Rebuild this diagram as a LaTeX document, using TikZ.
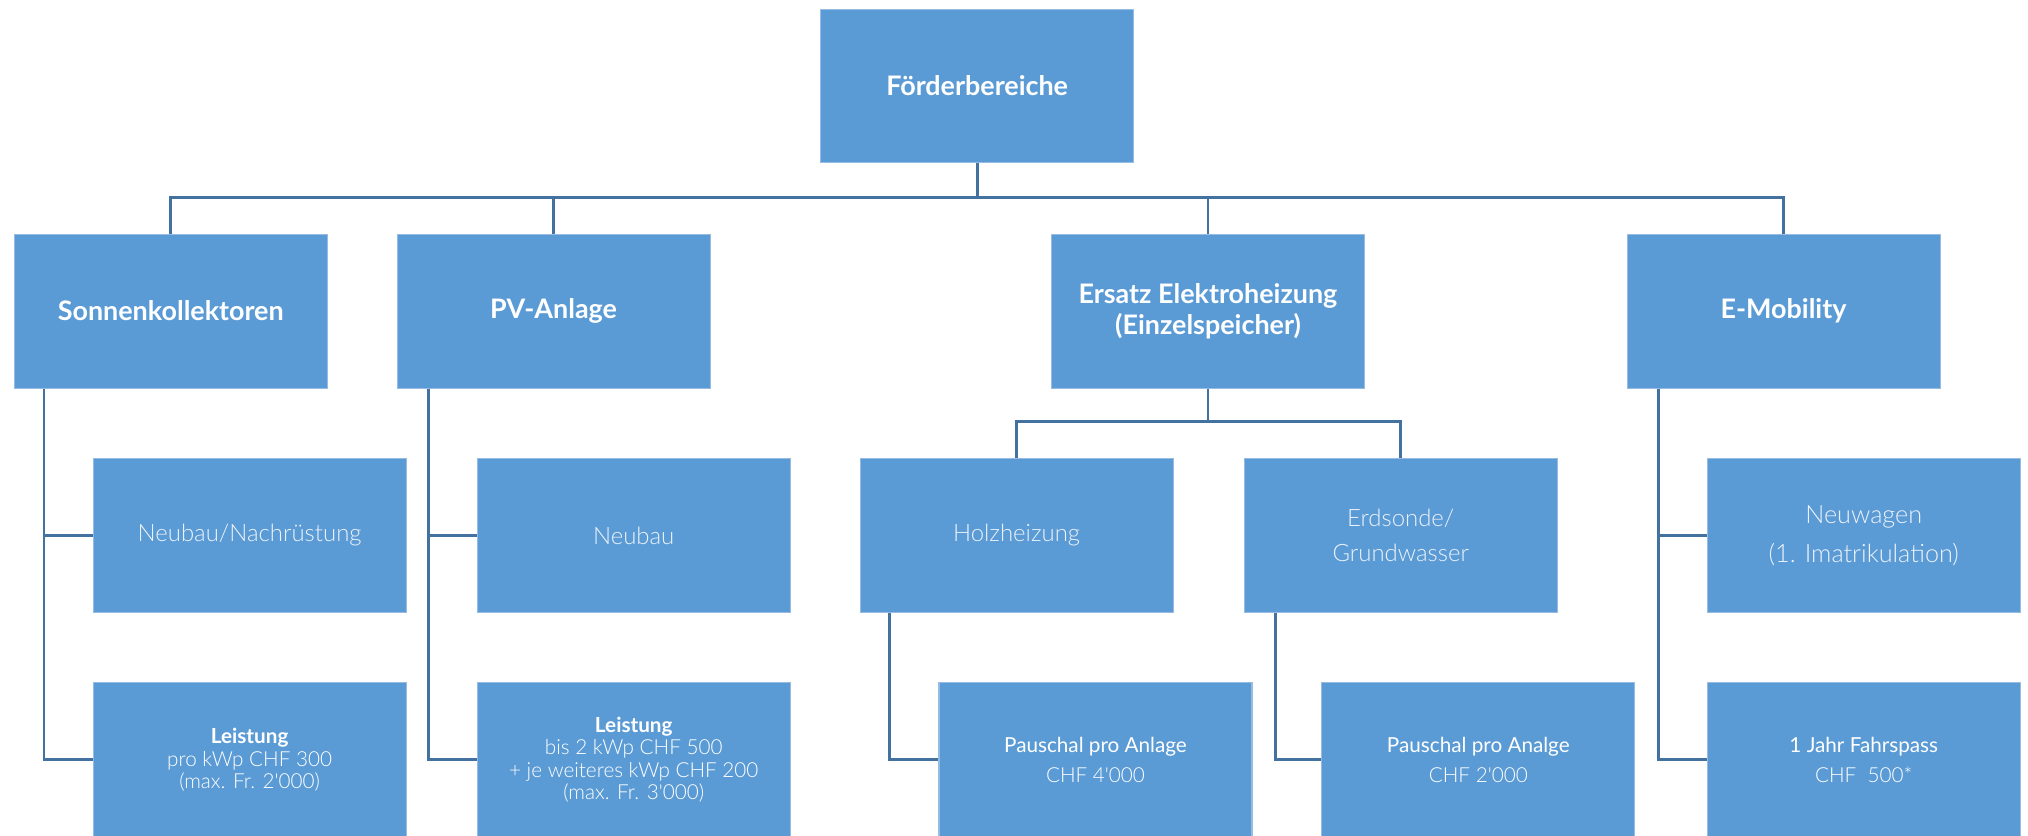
\documentclass[tikz,border=0pt]{standalone}
\usepackage{fontspec}
\setmainfont{Lato}
\newfontfamily\latolight{Lato Light}
\definecolor{boxblue}{RGB}{91,155,213}
\definecolor{linkblue}{RGB}{68,114,160}
\definecolor{boxedge}{RGB}{150,188,228}
\definecolor{lighttext}{RGB}{236,242,250}
\tikzset{
  blk/.style={rectangle, fill=boxblue, draw=boxedge, line width=0.8pt,
    minimum width=242pt, minimum height=119pt, inner sep=2pt, align=center, text=white},
  head/.style={blk, font=\bfseries\fontsize{20.8}{24}\selectfont},
  sub/.style={blk, font=\latolight\fontsize{18.5}{28}\selectfont, text=lighttext},
  leaf/.style={blk, font=\fontsize{16}{17.3}\selectfont},
  link/.style={draw=linkblue, line width=2.2pt}
}
\begin{document}
\begin{tikzpicture}[x=1pt,y=-1pt]
\useasboundingbox (0,0) rectangle (1568,645.6);
% nodes
\node[head] (root) at (755.5,66.5) {Förderbereiche};
\node[head] (sk) at (132,240.5) {Sonnenkollektoren};
\node[head] (pv) at (428,240.5) {PV-Anlage};
\node[head] (ez) at (934,240.5) {Ersatz Elektroheizung\\(Einzelspeicher)};
\node[head] (em) at (1379,240.5) {E-Mobility};
\node[sub] (n1) at (193,414) {Neubau/Nachrüstung};
\node[sub] (n2) at (490,414) {Neubau};
\node[sub] (hz) at (786,414) {Holzheizung};
\node[sub, font=\latolight\fontsize{18.5}{27.5}\selectfont] (ed) at (1083,414) {Erdsonde/\\Grundwasser};
\node[sub, font=\latolight\fontsize{19.5}{30}\selectfont] (nw) at (1441,414) {Neuwagen\\(1. Imatrikulation)};
\node[leaf] (l1) at (193,587.5) {\textbf{Leistung}\\{\latolight pro kWp CHF 300}\\{\latolight (max. Fr. 2'000)}};
\node[leaf] (l2) at (490,587.5) {\textbf{Leistung}\\{\latolight bis 2 kWp CHF 500}\\{\latolight + je weiteres kWp CHF 200}\\{\latolight (max. Fr. 3'000)}};
\node[leaf] (pa) at (847,587.5) {Pauschal pro Anlage\\[6pt]{\latolight CHF 4'000}};
\node[leaf] (pb) at (1143,587.5) {Pauschal pro Analge\\[6pt]{\latolight CHF 2'000}};
\node[leaf] (fj) at (1441,587.5) {1 Jahr Fahrspass\\[6pt]{\latolight CHF~~500*}};
% bus coordinates
\coordinate (bus) at (755.5,153);
\draw[link] (root.south) -- (bus);
\draw[link] (sk.north) |- (bus) -| (em.north);
\draw[link] (pv.north) -- (pv.north |- bus);
\draw[link] (ez.north) -- (ez.north |- bus);
% Sonnenkollektoren
\coordinate (skx) at (34,0);
\draw[link] (skx |- sk.south) -- (skx |- l1.west) -- (l1.west);
\draw[link] (skx |- n1.west) -- (n1.west);
% PV
\coordinate (pvx) at (331,0);
\draw[link] (pvx |- pv.south) -- (pvx |- l2.west) -- (l2.west);
\draw[link] (pvx |- n2.west) -- (n2.west);
% Ersatz
\coordinate (ezb) at (934,326);
\draw[link] (ez.south) -- (ezb);
\draw[link] (hz.north) |- (ezb) -| (ed.north);
% Holz / Erdsonde
\coordinate (hzx) at (688,0);
\draw[link] (hzx |- hz.south) -- (hzx |- pa.west) -- (pa.west);
\coordinate (edx) at (986,0);
\draw[link] (edx |- ed.south) -- (edx |- pb.west) -- (pb.west);
% E-Mobility
\coordinate (emx) at (1282,0);
\draw[link] (emx |- em.south) -- (emx |- fj.west) -- (fj.west);
\draw[link] (emx |- nw.west) -- (nw.west);
\end{tikzpicture}
\end{document}
